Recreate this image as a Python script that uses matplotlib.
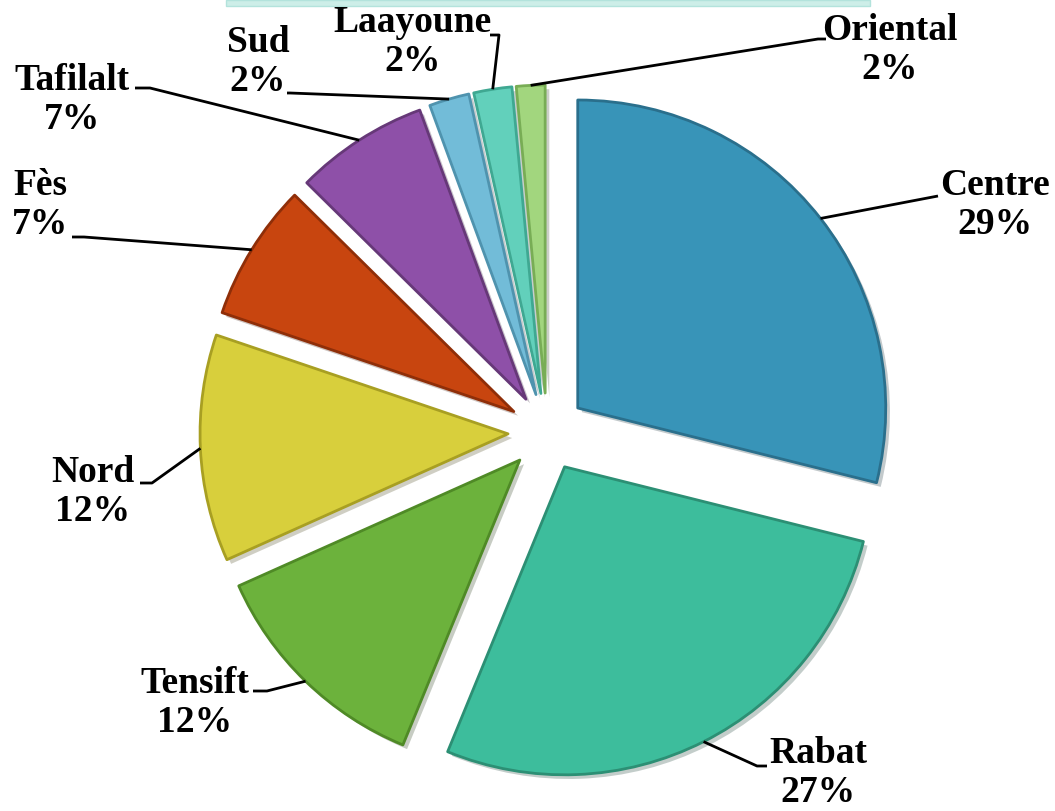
"""Exploded pie chart of regional shares (Maroc)."""

import numpy as np
import matplotlib
matplotlib.use('Agg')
import matplotlib.pyplot as plt
import matplotlib.patheffects as pe
from matplotlib.patches import Rectangle

# =============================================================================
# Data
# =============================================================================
REGIONS = ['Centre', 'Rabat', 'Tensift', 'Nord', 'Fès',
           'Tafilalt', 'Sud', 'Laayoune', 'Oriental']
SHARES = [28.9, 27.3, 12.1, 11.9, 7.2, 7.0, 2.1, 2.0, 1.5]
PCT_LABELS = ['29%', '27%', '12%', '12%', '7%', '7%', '2%', '2%', '2%']

COLORS = ['#3894b8', '#3dbd9c', '#6cb23c', '#d8cf3c', '#c8450f',
          '#8e50a8', '#72bcd8', '#62d0bb', '#a2d67e']
EDGES = ['#2a6f8c', '#2c8f74', '#4f8a26', '#a89f22', '#8f2e08',
         '#663878', '#4f93ae', '#3fa892', '#78ad55']

# label block centre (pixels from top-left) and leader elbow point
LABEL_POS = [(995, 205), (818, 773), (195, 703), (93, 492), (40, 205),
             (72, 100), (258, 62), (413, 42), (890, 50)]
ELBOWS = [(938, 196), (757, 766), (267, 691), (152, 483), (84, 237),
          (150, 88), (290, 93), (499, 35), (818, 39)]
ELBOW_ENDS = [(938, 196), (767, 766), (253, 691), (140, 483), (72, 237),
              (135, 88), (287, 93), (490, 35), (826, 39)]

# =============================================================================
# Geometry
# =============================================================================
W, H = 1055, 811
CX, CY = 547, H - 432
RADIUS = 308
EXPLODE = 39   # pie() offsets wedges in data units

fig = plt.figure(figsize=(W / 100, H / 100), dpi=100)
ax = fig.add_axes([0, 0, 1, 1])

# Top banner remnant
ax.add_patch(Rectangle((226, H - 6), 644, 6, facecolor='#cdeee8',
                       edgecolor='#b3e3dc', linewidth=1))

wedges, _ = ax.pie(SHARES, colors=COLORS, startangle=90, counterclock=False,
                   explode=[EXPLODE] * len(SHARES), radius=RADIUS,
                   center=(CX, CY), frame=True)
ax.set_xlim(0, W)
ax.set_ylim(0, H)
ax.set_aspect('equal')
ax.axis('off')

for w, ec in zip(wedges, EDGES):
    w.set_edgecolor(ec)
    w.set_linewidth(2.0)
    w.set_joinstyle('round')
    w.set_path_effects([pe.SimplePatchShadow(offset=(3, -3), alpha=0.25),
                        pe.Normal()])

# Labels and leader lines
for i, w in enumerate(wedges):
    mid = np.deg2rad((w.theta1 + w.theta2) / 2)
    cx, cy = w.center
    ax_pt = (cx + RADIUS * np.cos(mid), cy + RADIUS * np.sin(mid))
    ex, ey = ELBOWS[i]
    fx, fy = ELBOW_ENDS[i]
    ax.plot([ax_pt[0], ex, fx], [ax_pt[1], H - ey, H - fy],
            color='black', linewidth=2, solid_capstyle='butt', zorder=3)
    lx, ly = LABEL_POS[i]
    ax.text(lx, H - ly, REGIONS[i] + '\n' + PCT_LABELS[i],
            ha='center', va='center', multialignment='center',
            fontsize=27, fontweight='bold', family='Liberation Serif',
            linespacing=1.12, zorder=4)

fig.savefig('out.png', dpi=100, facecolor='white')
